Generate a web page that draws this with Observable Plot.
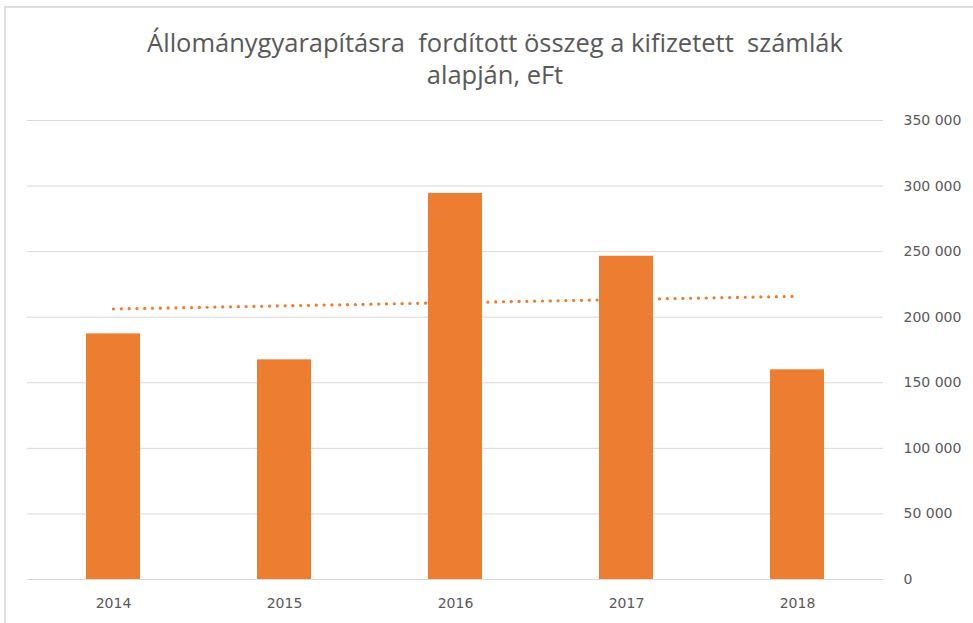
<!DOCTYPE html>
<html>
<head>
<meta charset="utf-8">
<script src="https://cdn.jsdelivr.net/npm/d3@7"></script>
<script src="https://cdn.jsdelivr.net/npm/@observablehq/plot@0.6"></script>
<style>
  html, body { margin: 0; padding: 0; background: #fff; overflow: hidden; }
  #wrap { position: relative; width: 973px; height: 623px; overflow: hidden; background: #fff; }
  #frame { position: absolute; left: 4px; top: 6px; width: 1100px; height: 700px;
           border-left: 2px solid #dedede; border-top: 2px solid #dedede; box-sizing: border-box; }
  #title { position: absolute; left: 4px; width: 982px; top: 26px; text-align: center;
           font-family: "Open Sans", sans-serif; font-size: 25.5px; line-height: 32px; color: #595959; }
  #chart { position: absolute; left: 0; top: 105px; }
</style>
</head>
<body>
<div id="wrap">
  <div id="frame"></div>
  <div id="title">Állománygyarapításra&nbsp; fordított összeg a kifizetett&nbsp; számlák<br>alapján, eFt</div>
  <div id="chart"></div>
</div>
<script>
// Data
const years = ["2014", "2015", "2016", "2017", "2018"];
const values = [187300, 167500, 294400, 246500, 159900];
const yTicks = [0, 50000, 100000, 150000, 200000, 250000, 300000, 350000];

const data = years.map((year, i) => ({year, value: values[i]}));

// Linear trendline (least squares over category index), as in the spreadsheet chart
const xs = values.map((_, i) => i + 1);
const mx = d3.mean(xs), my = d3.mean(values);
const slope = d3.sum(xs, (x, i) => (x - mx) * (values[i] - my)) / d3.sum(xs, x => (x - mx) ** 2);
const intercept = my - slope * mx;
const trend = years.map((year, i) => ({year, value: intercept + slope * xs[i]}));

const fmt = d => d3.format(",")(d).replace(/,/g, " ");

const chart = Plot.plot({
  width: 973,
  height: 518,
  marginLeft: 27,
  marginRight: 90,
  marginTop: 15,
  marginBottom: 44,
  style: {fontFamily: "DejaVu Sans, sans-serif", fontSize: "14px", color: "#595959", background: "transparent"},
  x: {type: "band", domain: years, paddingInner: 0.685, paddingOuter: 0.3425, label: null},
  y: {domain: [0, 350000], label: null},
  marks: [
    Plot.gridY(yTicks, {stroke: "#d9d9d9", strokeOpacity: 1, strokeWidth: 1}),
    Plot.line(trend, {x: "year", y: "value", stroke: "#ED7D31", strokeWidth: 3.2,
      strokeDasharray: "0.1 7.7", strokeLinecap: "round"}),
    Plot.barY(data, {x: "year", y: "value", fill: "#ED7D31"}),
    Plot.axisY(yTicks, {anchor: "right", tickSize: 0, tickPadding: 20, tickFormat: fmt, label: null}),
    Plot.axisX({tickSize: 0, tickPadding: 19, label: null})
  ]
});
document.getElementById("chart").appendChild(chart);
</script>
</body>
</html>
